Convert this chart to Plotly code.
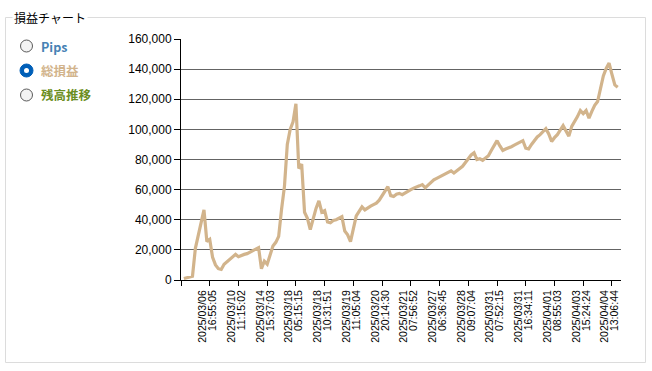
import plotly.graph_objects as go

# ---- data ----
pl_values = [
    1000, 1500, 2000, 2500, 21000, 29000, 38000, 46500, 25500, 27000,
    15000, 10000, 7500, 7000, 10500, 12000, 13500, 15000, 17000, 15500,
    16500, 17000, 17500, 18500, 19500, 20700, 21500, 7500, 12500, 10500,
    17000, 22500, 25000, 29000, 47000, 62000, 90000, 100000, 105000, 117000,
    74000, 77000, 45000, 41000, 33500, 41000, 47500, 52500, 45000, 46000,
    38500, 38000, 39500, 40000, 41000, 42000, 32500, 30000, 25500, 34000,
    42500, 45500, 48500, 46500, 48000, 49000, 50000, 51000, 53000, 56000,
    59000, 62000, 56000, 55500, 57000, 57500, 56700, 58000, 59000, 60000,
    61000, 62000, 62500, 63300, 61200, 63000, 65000, 66500, 67500, 68500,
    69500, 70500, 71500, 72500, 71000, 72500, 74000, 75500, 78000, 80500,
    83000, 84500, 80000, 80500, 79500, 81000, 82500, 86000, 89000, 92500,
    89000, 86000, 87000, 87500, 88500, 89500, 90500, 92000, 92500, 87500,
    87000, 90000, 92500, 95000, 96500, 98500, 100500, 97000, 92000, 94500,
    96500, 99500, 102500, 99000, 95500, 102000, 105000, 108500, 112500, 110500,
    112500, 107500, 112000, 116000, 118500, 126000, 135500, 140500, 144000, 136500,
    129500, 128000,
]
point_index = list(range(1, len(pl_values) + 1))

label_every = 10
tick_dates = [
    "2025/03/06", "2025/03/10", "2025/03/14", "2025/03/18", "2025/03/18",
    "2025/03/19", "2025/03/20", "2025/03/21", "2025/03/27", "2025/03/28",
    "2025/03/31", "2025/03/31", "2025/04/01", "2025/04/03", "2025/04/04",
]
tick_times = [
    "16:55:05", "11:15:02", "15:37:03", "05:15:15", "10:31:51",
    "11:05:04", "20:14:30", "07:56:52", "06:36:45", "09:07:04",
    "07:52:15", "16:34:11", "08:55:03", "15:24:24", "13:06:44",
]
y_ticks = [0, 20000, 40000, 60000, 80000, 100000, 120000, 140000, 160000]

radio_labels = ["Pips", "総損益", "残高推移"]
radio_colors = ["#4682B4", "#D2B48C", "#6B8E23"]
selected_radio = 1
group_title = "損益チャート"

# ---- layout helpers ----
W, H = 652, 371
L, R, T, B = 181, 31, 39, 91
PW, PH = W - L - R, H - T - B


def px_x(px):
    return (px - L) / PW


def px_y(py):
    return (H - B - py) / PH


tick_pos = [label_every * k for k in range(0, len(tick_dates) + 1)]
date_text = [""] + tick_dates
time_text = [""] + tick_times

fig = go.Figure()
fig.add_trace(go.Scatter(
    x=point_index, y=pl_values, mode="lines",
    line=dict(color="#D2B48C", width=3.2),
    hoverinfo="skip", showlegend=False,
))

num_font = dict(family="Liberation Sans, Arial, sans-serif", size=12, color="#000000")
xlab_font = dict(family="Liberation Sans, Arial, sans-serif", size=10.5, color="#000000")

xr = [0, PW / 2.873]

fig.update_layout(
    width=W, height=H, autosize=False,
    margin=dict(l=L, r=R, t=T, b=B, pad=0),
    paper_bgcolor="white", plot_bgcolor="white",
    showlegend=False,
    xaxis=dict(
        range=xr, showgrid=False, zeroline=False,
        showline=True, linecolor="#000000", linewidth=1,
        ticks="outside", ticklen=5, tickcolor="#000000",
        tickvals=tick_pos, ticktext=date_text, tickangle=-90,
        tickfont=xlab_font, ticklabelshift=-7,
        fixedrange=True,
    ),
    xaxis2=dict(
        range=xr, overlaying="x", matches="x", side="bottom", anchor="y",
        showgrid=False, zeroline=False, showline=False,
        ticks="outside", ticklen=5, tickcolor="#000000",
        tickvals=tick_pos, ticktext=time_text, tickangle=-90,
        tickfont=xlab_font, ticklabelshift=3,
        fixedrange=True,
    ),
    yaxis=dict(
        range=[0, 160000], tickvals=y_ticks, tickformat=",",
        showgrid=True, gridcolor="#646464", gridwidth=1,
        zeroline=False, showline=True, linecolor="#000000", linewidth=1,
        ticks="outside", ticklen=6, tickcolor="#000000",
        tickfont=num_font, fixedrange=True,
    ),
)

# invisible helper so the second label axis is rendered
fig.add_trace(go.Scatter(x=[None], y=[None], xaxis="x2", yaxis="y",
                         mode="lines", showlegend=False, hoverinfo="skip"))

shapes = []
annotations = []

# group box frame
shapes.append(dict(type="rect", xref="paper", yref="paper",
                   x0=px_x(5.5), x1=px_x(645.5), y0=px_y(362.5), y1=px_y(17.5),
                   line=dict(color="#DCDCDC", width=1), fillcolor="rgba(0,0,0,0)",
                   layer="below"))
annotations.append(dict(text=group_title, xref="paper", yref="paper",
                        x=px_x(12), y=px_y(17.5), xanchor="left", yanchor="middle",
                        showarrow=False, bgcolor="white", borderpad=1,
                        font=dict(family="Noto Sans CJK JP, sans-serif", size=12, color="#000000")))

# radio buttons
radio_y = [46, 70.5, 95]
for i, (lab, col) in enumerate(zip(radio_labels, radio_colors)):
    cy = px_y(radio_y[i])
    cx = px_x(26.5)
    if i == selected_radio:
        shapes.append(dict(type="circle", xref="paper", yref="paper",
                           xsizemode="pixel", ysizemode="pixel", xanchor=cx, yanchor=cy,
                           x0=-6.5, x1=6.5, y0=-6.5, y1=6.5,
                           line=dict(color="#005FB8", width=1), fillcolor="#005FB8"))
        shapes.append(dict(type="circle", xref="paper", yref="paper",
                           xsizemode="pixel", ysizemode="pixel", xanchor=cx, yanchor=cy,
                           x0=-2.5, x1=2.5, y0=-2.5, y1=2.5,
                           line=dict(color="#FFFFFF", width=0), fillcolor="#FFFFFF"))
    else:
        shapes.append(dict(type="circle", xref="paper", yref="paper",
                           xsizemode="pixel", ysizemode="pixel", xanchor=cx, yanchor=cy,
                           x0=-6, x1=6, y0=-6, y1=6,
                           line=dict(color="#5A5A5A", width=1), fillcolor="#F3F3F3"))
    annotations.append(dict(text=f"<b>{lab}</b>", xref="paper", yref="paper",
                            x=px_x(39), y=cy, xanchor="left", yanchor="middle",
                            showarrow=False,
                            font=dict(family="Noto Sans CJK JP, Liberation Sans, sans-serif",
                                      size=12.5, color=col)))

fig.update_layout(shapes=shapes, annotations=annotations)

fig.write_html("out.html", post_script="document.body.style.margin='0';",
               config={"displayModeBar": False})
